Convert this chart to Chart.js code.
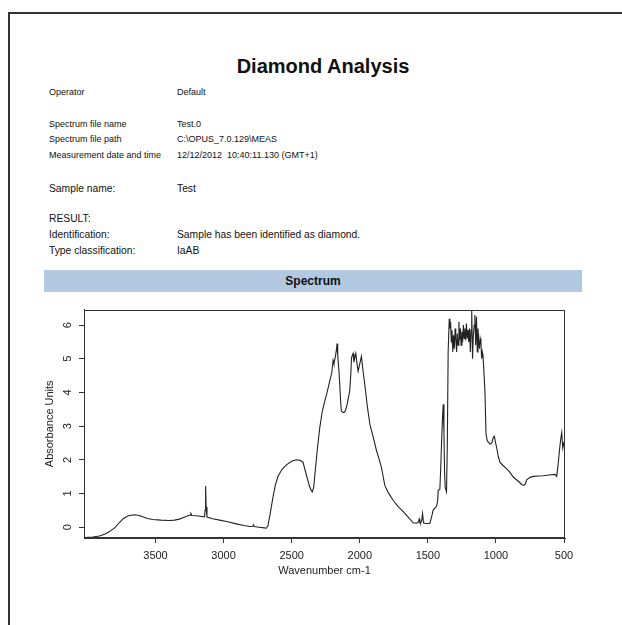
<!DOCTYPE html>
<html>
<head>
<meta charset="utf-8">
<title>Diamond Analysis</title>
<script src="https://cdn.jsdelivr.net/npm/chart.js@4.4.1/dist/chart.umd.min.js"></script>
<style>
  html, body { margin: 0; padding: 0; background: #fff; }
  #page {
    position: relative; width: 622px; height: 625px; overflow: hidden;
    font-family: "Liberation Sans", Arial, sans-serif; color: #111;
  }
  .rule-top  { position: absolute; left: 8px; top: 12px; width: 614px; height: 2px; background: #333; }
  .rule-left { position: absolute; left: 8px; top: 12px; width: 2px; height: 613px; background: #333; }
  .t { position: absolute; white-space: nowrap; line-height: 1; }
  .small { font-size: 9px; }
  .mid { font-size: 10.3px; }
  .title { left: 0; width: 646px; text-align: center; font-size: 20px; font-weight: bold; top: 56px; }
  .band {
    position: absolute; left: 44px; top: 270px; width: 538px; height: 22px;
    background: #b3c8e1; text-align: center; font-weight: bold; font-size: 12px; line-height: 22px; color: #111;
  }
  #chartBox { position: absolute; left: 0; top: 295px; width: 622px; height: 300px; }
</style>
</head>
<body>
<div id="page">
  <div class="rule-top"></div>
  <div class="rule-left"></div>

  <div class="t title">Diamond Analysis</div>

  <div class="t small" style="left:49px; top:88px;">Operator</div>
  <div class="t small" style="left:177px; top:88px;">Default</div>

  <div class="t small" style="left:49px; top:120px;">Spectrum file name</div>
  <div class="t small" style="left:177px; top:120px;">Test.0</div>
  <div class="t small" style="left:49px; top:135px;">Spectrum file path</div>
  <div class="t small" style="left:177px; top:135px;">C:\OPUS_7.0.129\MEAS</div>
  <div class="t small" style="left:49px; top:151px;">Measurement date and time</div>
  <div class="t small" style="left:177px; top:151px;">12/12/2012&nbsp;&nbsp;10:40:11.130 (GMT+1)</div>

  <div class="t mid" style="left:49px; top:184px;">Sample name:</div>
  <div class="t mid" style="left:177px; top:184px;">Test</div>

  <div class="t mid" style="left:49px; top:214px;">RESULT:</div>
  <div class="t mid" style="left:49px; top:230px;">Identification:</div>
  <div class="t mid" style="left:177px; top:230px;">Sample has been identified as diamond.</div>
  <div class="t mid" style="left:49px; top:246px;">Type classification:</div>
  <div class="t mid" style="left:177px; top:246px;">IaAB</div>

  <div class="band">Spectrum</div>

  <div id="chartBox"><canvas id="spectrum" width="622" height="300"></canvas></div>
</div>

<script>
// Absorbance spectrum, wavenumber (cm-1) descending
const wavenumbers = [
  4022, 3960, 3912, 3870, 3838, 3800, 3765, 3735, 3700, 3654, 3620, 3593, 3560, 3520, 3460, 3397,
  3360, 3324, 3285, 3262, 3245, 3240, 3232, 3200, 3160, 3140, 3136, 3132, 3128, 3122, 3080, 3029,
  2970, 2907, 2850, 2809, 2785, 2780, 2775, 2740, 2700, 2686, 2674, 2660, 2637, 2620, 2600, 2570,
  2539, 2500, 2466, 2440, 2417, 2392, 2368, 2355, 2348, 2338, 2331, 2312, 2294, 2275, 2257, 2240,
  2221, 2205, 2196, 2190, 2180, 2172, 2167, 2162, 2152, 2140, 2135, 2122, 2110, 2095, 2074, 2065,
  2061, 2055, 2049, 2043, 2037, 2029, 2020, 2012, 2000, 1988, 1975, 1963, 1945, 1926, 1900, 1877,
  1860, 1841, 1816, 1790, 1755, 1720, 1681, 1640, 1608, 1583, 1568, 1564, 1558, 1554, 1545, 1539,
  1533, 1530, 1500, 1485, 1470, 1461, 1445, 1436, 1428, 1424, 1412, 1405, 1399, 1392, 1387, 1382,
  1377, 1373, 1363, 1357, 1351, 1343, 1338, 1333, 1328, 1323, 1317, 1312, 1306, 1300, 1295, 1289,
  1284, 1278, 1272, 1267, 1261, 1256, 1250, 1245, 1239, 1234, 1228, 1222, 1217, 1211, 1205, 1200,
  1194, 1188, 1183, 1178, 1172, 1166, 1160, 1155, 1149, 1143, 1137, 1132, 1126, 1121, 1116, 1110,
  1105, 1100, 1095, 1081, 1073, 1064, 1044, 1030, 1020, 1012, 1005, 995, 983, 971, 950, 921,
  900, 873, 840, 811, 795, 785, 774, 750, 725, 690, 652, 610, 566, 554, 545, 534,
  525, 517, 510, 505, 500, 493
];
const absorbance = [
  -0.31, -0.29, -0.26, -0.20, -0.13, -0.02, 0.14, 0.26, 0.34, 0.37, 0.35, 0.31, 0.26, 0.23, 0.21, 0.20,
  0.21, 0.24, 0.30, 0.34, 0.36, 0.41, 0.35, 0.34, 0.32, 0.31, 0.50, 1.22, 0.60, 0.30, 0.25, 0.21,
  0.16, 0.10, 0.05, 0.02, 0.03, 0.07, 0.02, 0.00, -0.02, -0.03, 0.05, 0.35, 0.90, 1.25, 1.52, 1.72,
  1.85, 1.96, 2.00, 1.99, 1.93, 1.55, 1.20, 1.08, 1.05, 1.20, 1.49, 2.30, 2.95, 3.45, 3.74, 4.00,
  4.33, 4.60, 4.95, 4.85, 5.05, 5.25, 5.45, 5.10, 4.60, 3.70, 3.45, 3.40, 3.42, 3.60, 4.04, 4.60,
  5.02, 5.10, 5.16, 4.90, 5.02, 5.16, 4.85, 4.63, 4.85, 5.07, 4.60, 4.24, 3.60, 3.06, 2.65, 2.27,
  2.05, 1.78, 1.24, 1.02, 0.80, 0.62, 0.46, 0.28, 0.13, 0.12, 0.16, 0.24, 0.14, 0.12, 0.20, 0.41,
  0.18, 0.12, 0.11, 0.12, 0.35, 0.51, 0.58, 0.62, 0.80, 1.10, 1.12, 1.80, 2.57, 3.30, 3.65, 2.80,
  1.60, 1.19, 1.05, 2.50, 5.21, 6.19, 5.90, 6.10, 5.50, 5.85, 5.20, 5.70, 5.30, 5.90, 5.60, 5.20,
  5.75, 5.40, 6.10, 5.55, 5.90, 5.40, 5.80, 5.50, 6.00, 5.60, 5.90, 5.55, 6.05, 5.60, 5.85, 5.50,
  5.90, 5.20, 5.85, 6.44, 5.00, 5.70, 6.00, 6.30, 5.40, 6.25, 5.20, 5.90, 5.50, 5.30, 5.60, 5.45,
  5.00, 5.20, 5.10, 4.04, 2.76, 2.57, 2.47, 2.50, 2.66, 2.70, 2.55, 2.37, 2.10, 1.93, 1.84, 1.73,
  1.64, 1.49, 1.38, 1.27, 1.24, 1.28, 1.41, 1.48, 1.51, 1.52, 1.53, 1.55, 1.57, 1.51, 1.80, 2.27,
  2.60, 2.81, 2.37, 2.50, 2.47, 2.03
];
const xTicks = [3500, 3000, 2500, 2000, 1500, 1000, 500];
const yTicks = [0, 1, 2, 3, 4, 5, 6];

const FONT = '"Liberation Sans", Arial, sans-serif';
const INK = '#222';
const AXIS = '#333';

// full box around the plotting region
const plotBox = {
  id: 'plotBox',
  afterDraw(chart) {
    const {ctx, chartArea: a} = chart;
    ctx.save();
    ctx.strokeStyle = AXIS;
    ctx.lineWidth = 1;
    ctx.strokeRect(Math.round(a.left) + 0.5, Math.round(a.top) + 0.5,
                   Math.round(a.right - a.left) - 1, Math.round(a.bottom - a.top) - 1);
    ctx.restore();
  }
};

new Chart(document.getElementById('spectrum'), {
  type: 'line',
  data: {
    datasets: [{
      data: wavenumbers.map((w, i) => ({x: w, y: absorbance[i]})),
      borderColor: INK,
      borderWidth: 1.1,
      pointRadius: 0,
      tension: 0,
      fill: false
    }]
  },
  options: {
    responsive: false,
    animation: false,
    layout: {padding: {left: 0, right: 57, top: 13, bottom: 0}},
    plugins: {legend: {display: false}, tooltip: {enabled: false}},
    scales: {
      x: {
        type: 'linear',
        reverse: true,
        min: 493,
        max: 4025,
        afterBuildTicks: s => { s.ticks = xTicks.map(v => ({value: v})); },
        afterFit: s => { s.height = 57; },
        grid: {display: true, drawOnChartArea: false, drawTicks: true, tickLength: 5, color: AXIS, lineWidth: 1},
        border: {display: true, color: AXIS, width: 1},
        ticks: {font: {family: FONT, size: 11}, color: INK, padding: 6, minRotation: 0, maxRotation: 0,
                autoSkip: false, callback: v => String(v)},
        title: {display: true, text: 'Wavenumber cm-1', font: {family: FONT, size: 11}, color: INK,
                padding: {top: 0, bottom: 17}}
      },
      y: {
        min: -0.32,
        max: 6.46,
        afterBuildTicks: s => { s.ticks = yTicks.map(v => ({value: v})); },
        afterFit: s => { s.width = 84; },
        grid: {display: true, drawOnChartArea: false, drawTicks: true, tickLength: 5, color: AXIS, lineWidth: 1},
        border: {display: true, color: AXIS, width: 1},
        ticks: {font: {family: FONT, size: 11}, color: INK, padding: 8, minRotation: 90, maxRotation: 90,
                crossAlign: 'center', autoSkip: false, callback: v => String(v)},
        title: {display: true, text: 'Absorbance Units', font: {family: FONT, size: 11}, color: INK,
                padding: {top: 43, bottom: 0}}
      }
    }
  },
  plugins: [plotBox]
});
</script>
</body>
</html>
